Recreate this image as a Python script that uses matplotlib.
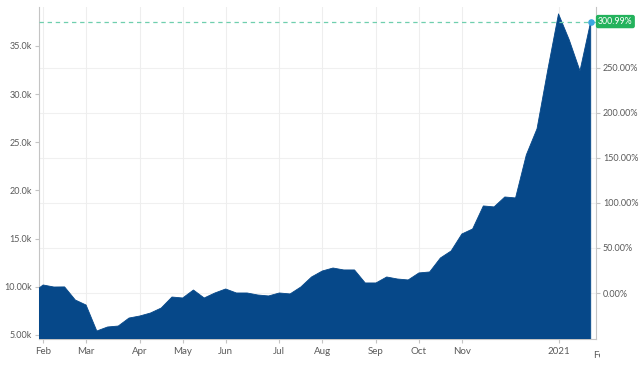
import matplotlib
matplotlib.use("Agg")
import matplotlib.pyplot as plt
import matplotlib.transforms as mtransforms
import pandas as pd

plt.rcParams['font.family'] = ['Lato', 'DejaVu Sans']

# weekly values, first point (Jan 27 2020) is the 0% base
start_date = "2020-01-27"
values = [9357, 10190, 9980, 9990, 8630, 8110, 5415, 5830, 5930, 6760,
          6970, 7280, 7800, 8940, 8840, 9670, 8840, 9360, 9775, 9360,
          9360, 9150, 9050, 9360, 9260, 9980, 11020, 11640, 11950, 11750,
          11750, 10400, 10400, 11020, 10810, 10710, 11440, 11540, 12990, 13720,
          15480, 16000, 18390, 18290, 19320, 19220, 23680, 26400, 32500, 38320,
          35620, 32400, 37521]
dates = pd.date_range(start_date, periods=len(values), freq="W-MON")

tick_dates = pd.to_datetime(["2020-02-03", "2020-03-02", "2020-04-06", "2020-05-04",
                             "2020-06-01", "2020-07-06", "2020-08-03", "2020-09-07",
                             "2020-10-05", "2020-11-02", "2021-01-04"])
tick_labels = ["Feb", "Mar", "Apr", "May", "Jun", "Jul", "Aug", "Sep", "Oct", "Nov", "2021"]

left_ticks = [5000, 10000, 15000, 20000, 25000, 30000, 35000]
left_labels = ["5.00k", "10.00k", "15.0k", "20.0k", "25.0k", "30.0k", "35.0k"]
pct_ticks = [0, 50, 100, 150, 200, 250]
pct_labels = ["0.00%", "50.00%", "100.00%", "150.00%", "200.00%", "250.00%"]

base = values[0]
last_pct = (values[-1] / base - 1) * 100

fill_col = "#064889"
txt_col = "#5a5a5a"
spine_col = "#c4c4c4"

fig = plt.figure(figsize=(6.4, 3.67), dpi=100)
ax = fig.add_axes([0.061, 0.0763, 0.870, 0.905])

ax.fill_between(dates, values, 0, color=fill_col, lw=0.6, edgecolor=fill_col, zorder=3)

ymin, ymax = 4585, 39046
ax.set_ylim(ymin, ymax)
ax.set_xlim(pd.Timestamp("2020-01-31 08:00"), pd.Timestamp("2021-01-28 08:00"))

ax.set_yticks(left_ticks)
ax.set_yticklabels(left_labels)
ax.set_xticks(tick_dates)
ax.set_xticklabels(tick_labels)
ax.grid(axis="x", color="#eeeeee", lw=0.8, zorder=0)

# twin axis in percent of first value
ax2 = ax.twinx()
ax2.set_ylim((ymin / base - 1) * 100, (ymax / base - 1) * 100)
ax2.set_yticks(pct_ticks)
ax2.set_yticklabels(pct_labels)
ax2.grid(axis="y", color="#f0f0f0", lw=0.8)
ax2.set_zorder(0)
ax.set_zorder(1)
ax.patch.set_visible(False)

for a in (ax, ax2):
    a.tick_params(colors=spine_col, labelcolor=txt_col, labelsize=6.5, length=3, width=0.8)
    a.spines["top"].set_visible(False)
    for s in ("left", "right", "bottom"):
        a.spines[s].set_color(spine_col)
ax.spines["right"].set_visible(False)
ax2.spines["left"].set_visible(False)
ax2.spines["bottom"].set_visible(False)
ax.tick_params(axis="x", labelsize=7, pad=3)
ax2.tick_params(axis="y", pad=2)
ax.tick_params(axis="y", pad=2)

# reference line at last value
ax.axhline(values[-1], color="#6fcfae", ls=(0, (3.5, 3)), lw=0.9, zorder=4)
ax.scatter([dates[-1]], [values[-1]], s=14, color="#3ba7e0", zorder=5, clip_on=False)
ax2.text(1.004, last_pct, f"{last_pct:.2f}%",
         transform=mtransforms.blended_transform_factory(ax2.transAxes, ax2.transData),
         ha="left", va="center", color="white", fontsize=6.3,
         bbox=dict(boxstyle="round,pad=0.25", fc="#23b25c", ec="none"))

# next month label, cut at the plot edge
feb = ax.text(pd.Timestamp("2021-02-01"), -0.035, "Feb",
              transform=mtransforms.blended_transform_factory(ax.transData, ax.transAxes),
              ha="center", va="top", color=txt_col, fontsize=7, clip_on=True)
feb.set_clip_box(mtransforms.TransformedBbox(mtransforms.Bbox([[0, -0.5], [1.007, 1]]), ax.transAxes))

fig.savefig("out.png", dpi=100)
